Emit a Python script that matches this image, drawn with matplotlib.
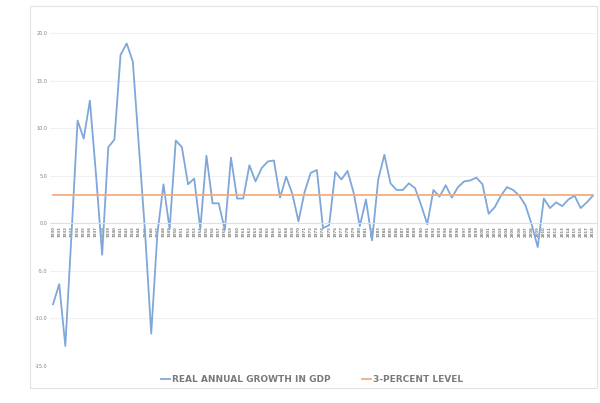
import numpy as np
import matplotlib.pyplot as plt
from matplotlib.patches import Rectangle

years = list(range(1930, 2019))
gdp_growth = [-8.5, -6.4, -12.9, -1.2, 10.8, 8.9, 12.9, 5.1, -3.3, 8.0,
              8.8, 17.7, 18.9, 17.0, 8.0, -1.0, -11.6, -1.1, 4.1, -0.6,
              8.7, 8.0, 4.1, 4.7, -0.6, 7.1, 2.1, 2.1, -0.7, 6.9,
              2.6, 2.6, 6.1, 4.4, 5.8, 6.5, 6.6, 2.7, 4.9, 3.1,
              0.2, 3.3, 5.3, 5.6, -0.5, -0.2, 5.4, 4.6, 5.5, 3.2,
              -0.3, 2.5, -1.8, 4.6, 7.2, 4.2, 3.5, 3.5, 4.2, 3.7,
              1.9, -0.1, 3.5, 2.8, 4.0, 2.7, 3.8, 4.4, 4.5, 4.8,
              4.1, 1.0, 1.7, 2.9, 3.8, 3.5, 2.9, 1.9, -0.1, -2.5,
              2.6, 1.6, 2.2, 1.8, 2.5, 2.9, 1.6, 2.2, 2.9]
level = [3.0] * len(years)
y_ticks = [-15, -10, -5, 0, 5, 10, 15, 20]

fig = plt.figure(figsize=(6, 4.03), dpi=100)
fig.patches.append(Rectangle((30/600, 1-388/403), 567/600, 382/403,
                             transform=fig.transFigure, fill=False,
                             edgecolor='#e3e3e3', linewidth=0.8))
ax = fig.add_axes([50/600, 1-366/403, 546/600, 333/403])

# move the category axis to zero first (this resets tick settings)
ax.spines['bottom'].set_position(('data', 0))
ax.spines['bottom'].set_color('#e0e0e0')
for s in ['top', 'right', 'left']:
    ax.spines[s].set_visible(False)

x = np.arange(len(years))
ax.plot(x, gdp_growth, color='#7fa7da', linewidth=1.3, label='REAL ANNUAL GROWTH IN GDP')
ax.plot(x, level, color='#f3ac80', linewidth=1.3, label='3-PERCENT LEVEL')

ax.set_xlim(-0.5, len(years) - 0.5)
ax.set_ylim(-15, 20)
ax.set_yticks(y_ticks)
ax.set_yticklabels([f'{v:.1f}' for v in y_ticks], fontsize=3.5, color='#808080')
ax.grid(axis='y', color='#f0f0f0', linewidth=0.8)
ax.set_axisbelow(True)

ax.set_xticks(x)
ax.set_xticklabels([str(yr) for yr in years], rotation=90, fontsize=2.8,
                   color='#7f7f7f', fontweight='bold')
ax.tick_params(length=0, pad=2)

leg = fig.legend(loc='center', bbox_to_anchor=(0.52, 1-380/403), ncol=2, frameon=False,
                 fontsize=6.5, handlelength=1.0, handletextpad=0.2, columnspacing=3.5)
for t in leg.get_texts():
    t.set_color('#7a7a7a')
    t.set_fontweight('bold')

fig.savefig('out.png', dpi=100)
